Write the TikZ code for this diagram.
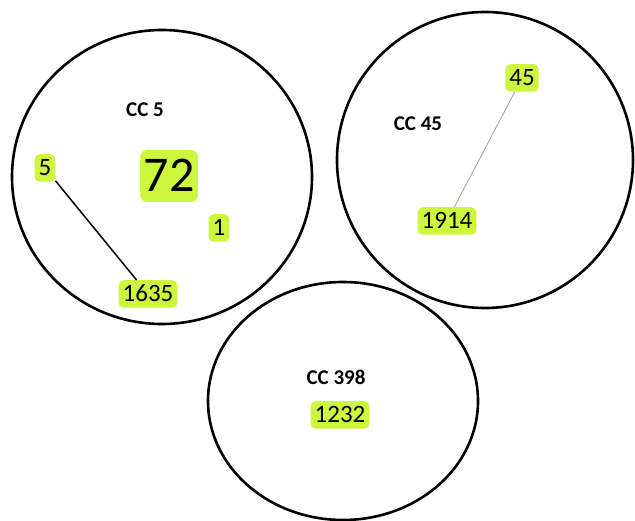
\documentclass[tikz,border=0pt]{standalone}
\usepackage{fontspec}
\setmainfont{Carlito}
\definecolor{limefill}{RGB}{205,247,60}
\begin{document}
\begin{tikzpicture}[x=1pt,y=-1pt,
  ring/.style={line width=2.6pt, draw=black},
  cclab/.style={font=\bfseries\fontsize{21}{21}\selectfont, inner sep=0pt},
  st/.style={fill=limefill, rounded corners=5pt, font=\fontsize{25}{25}\selectfont,
    inner xsep=4pt, inner ysep=6pt, text height=15.5pt, text depth=0pt},
  bigst/.style={st, font=\fontsize{50}{50}\selectfont, inner xsep=3.5pt, inner ysep=10pt, text height=32pt, rounded corners=7pt},
  link/.style={line width=1.5pt, draw=black},
  glink/.style={line width=0.9pt, draw=black!35}]
\useasboundingbox (0,0) rectangle (635,521);
% rings
\draw[ring] (162,177) ellipse [x radius=150, y radius=147];
\draw[ring] (485,160) ellipse [x radius=148, y radius=148];
\draw[ring] (343,401) ellipse [x radius=135, y radius=119];
% labels
\node[cclab] (cc5) at (145,110) {CC 5};
\node[cclab] (cc45) at (418,124) {CC 45};
\node[cclab] (cc398) at (336,377) {CC 398};
% sequence types
\node[st] (n5) at (45,168) {5};
\node[bigst] (n72) at (169,176) {72};
\node[st] (n1) at (219,228) {1};
\node[st] (n1635) at (148,294) {1635};
\node[st] (n45) at (522,78) {45};
\node[st] (n1914) at (447,221) {1914};
\node[st] (n1232) at (340,415) {1232};
% links
\draw[link] (n5) -- (n1635);
\draw[glink] (n45) -- (n1914);
\end{tikzpicture}
\end{document}
